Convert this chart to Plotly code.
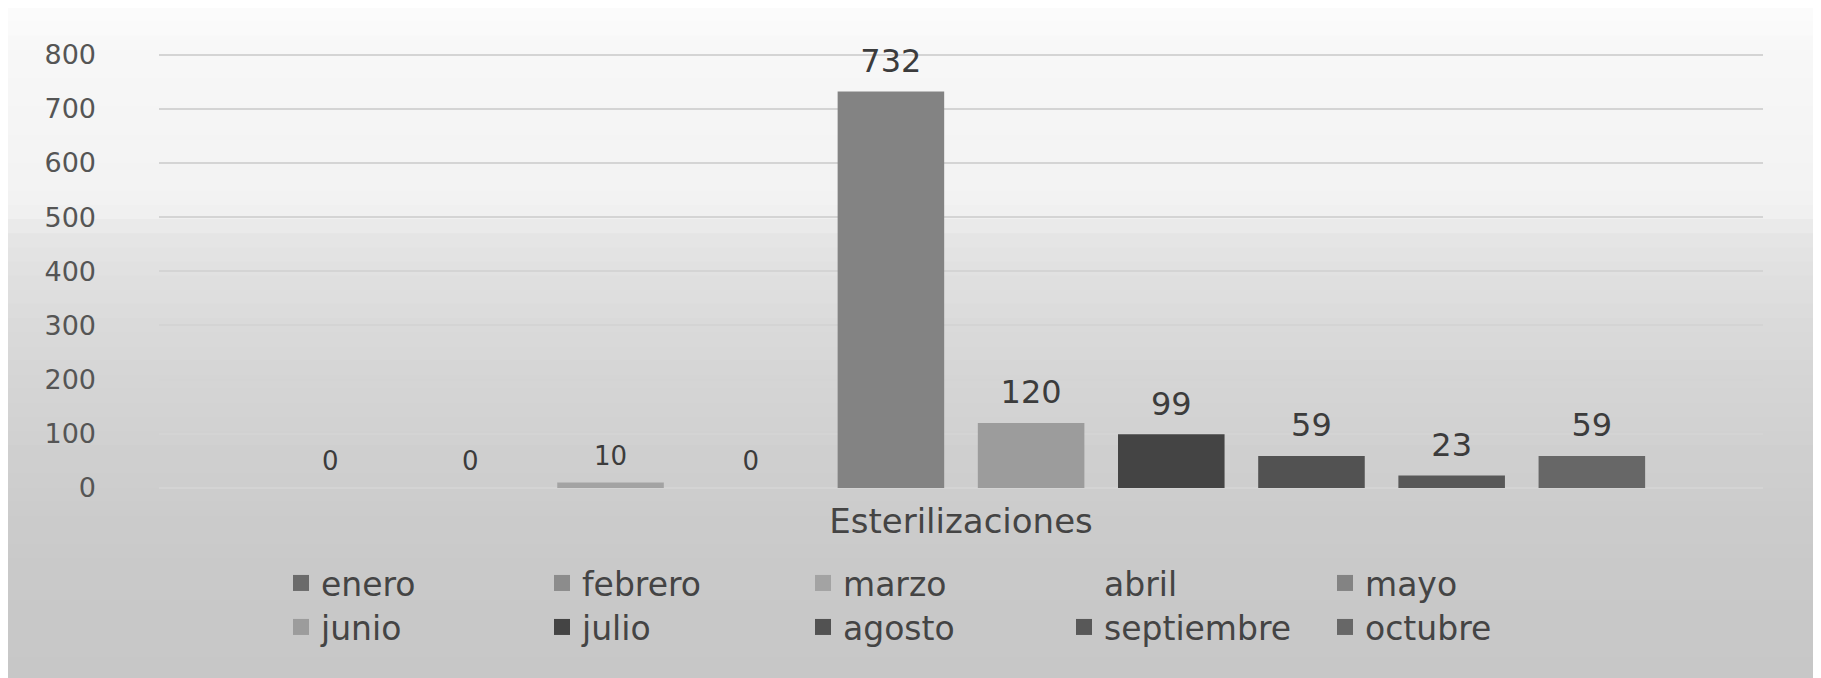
import plotly.graph_objects as go

# ---- data ----
category = ["Esterilizaciones"]
months = ["enero", "febrero", "marzo", "abril", "mayo",
          "junio", "julio", "agosto", "septiembre", "octubre"]
values = [0, 0, 10, 0, 732, 120, 99, 59, 23, 59]
colors = ["#6b6b6b", "#8c8c8c", "#a3a3a3", "rgba(0,0,0,0)", "#838383",
          "#9c9c9c", "#444444", "#525252", "#585858", "#676767"]
y_ticks = [0, 100, 200, 300, 400, 500, 600, 700, 800]

W, H = 1821, 678
M_L, M_R, M_T, M_B = 151, 66, 45, 198
plot_h = H - M_T - M_B
Y_RANGE = [0, 803]
LABEL_LIFT = 16  # data-label offset above the bar top (in axis units)

fig = go.Figure()
for i, (m, v, c) in enumerate(zip(months, values, colors)):
    fig.add_trace(go.Bar(
        x=category, y=[v], name=m, legendgroup=m,
        marker=dict(color=c, line=dict(width=0)),
        showlegend=False, hoverinfo="name+y",
    ))

# legend entries with square swatches
for i, (m, c) in enumerate(zip(months, colors)):
    fig.add_trace(go.Scatter(
        x=[None], y=[None], mode="markers", name=m, legendgroup=m,
        marker=dict(symbol="square", size=16, color=c, line=dict(width=0)),
        legend="legend" if i < 5 else "legend2", hoverinfo="skip",
    ))

# data labels: transparent bars on an overlaid axis, same grouping, lifted a bit
for i, (m, v) in enumerate(zip(months, values)):
    small = i < 4
    fig.add_trace(go.Bar(
        x=category, y=[v], base=LABEL_LIFT, name=m, yaxis="y2",
        marker=dict(color="rgba(0,0,0,0)", line=dict(width=0)),
        text=[str(v)], textposition="outside", cliponaxis=False,
        textfont=dict(family="DejaVu Sans", size=26 if small else 32, color="#3c3c3c"),
        showlegend=False, hoverinfo="skip",
    ))

# scanned-paper background: light at top, grey towards the bottom
stops = [(0, 252), (35, 248), (200, 242), (235, 228), (330, 217), (450, 207), (560, 201), (678, 199)]
bands = 48
shapes = []
for k in range(bands):
    p0 = H * k / bands
    p1 = H * (k + 1) / bands
    pm = (p0 + p1) / 2
    for (a, ga), (b, gb) in zip(stops[:-1], stops[1:]):
        if a <= pm <= b:
            g = int(round(ga + (gb - ga) * (pm - a) / (b - a)))
            break
    shapes.append(dict(
        type="rect", xref="paper", yref="paper", layer="below",
        x0=-M_L / (W - M_L - M_R) - 0.01, x1=1 + M_R / (W - M_L - M_R) + 0.01,
        y0=(H - M_B - p1) / plot_h, y1=(H - M_B - p0) / plot_h + 0.002,
        line=dict(width=0), fillcolor=f"rgb({g},{g},{g})",
    ))

plot_w = W - M_L - M_R
legend_common = dict(
    orientation="h", xanchor="left", yanchor="middle",
    font=dict(family="DejaVu Sans", size=33, color="#444444"),
    bgcolor="rgba(0,0,0,0)", borderwidth=0, itemsizing="trace",
    entrywidth=216, entrywidthmode="pixels", traceorder="normal",
)

fig.update_layout(
    width=W, height=H,
    margin=dict(l=M_L, r=M_R, t=M_T, b=M_B, autoexpand=False),
    paper_bgcolor="white", plot_bgcolor="rgba(0,0,0,0)",
    barmode="group", bargap=0.126, bargroupgap=0.24,
    shapes=shapes,
    showlegend=True,
    legend=dict(x=(273 - M_L) / plot_w, y=(H - M_B - 575) / plot_h, **legend_common),
    legend2=dict(x=(273 - M_L) / plot_w, y=(H - M_B - 619) / plot_h, **legend_common),
    xaxis=dict(
        showgrid=False, zeroline=False, showline=False,
        tickfont=dict(family="DejaVu Sans", size=34, color="#444444"),
        ticklabelstandoff=10,
    ),
    yaxis=dict(
        range=Y_RANGE, tickvals=y_ticks, showgrid=True,
        gridcolor="#d4d4d4", gridwidth=2, zeroline=True, zerolinecolor="#d4d4d4", zerolinewidth=2,
        showline=False, ticks="",
        tickfont=dict(family="DejaVu Sans", size=27, color="#555555"),
        ticklabelstandoff=62,
    ),
    yaxis2=dict(
        range=Y_RANGE, overlaying="y", visible=False, showgrid=False, zeroline=False,
    ),
)

fig.write_html("out.html")
